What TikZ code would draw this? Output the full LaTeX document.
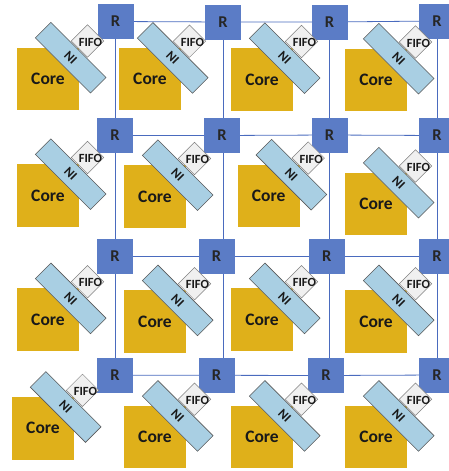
\documentclass[tikz,border=0pt]{standalone}
\usepackage{fontspec}
\setmainfont{Carlito}
\usetikzlibrary{calc,backgrounds}

\definecolor{coregold}{HTML}{DFB01A}
\definecolor{routerblue}{HTML}{5B7CC6}
\definecolor{linkblue}{HTML}{4A6BBE}
\definecolor{niblue}{HTML}{A9CFE3}
\definecolor{fifogray}{HTML}{F0F0F0}

\tikzset{
  router/.style={fill=routerblue, minimum width=36pt, minimum height=35pt,
    inner sep=0pt, font=\fontsize{16.5}{17}\selectfont\bfseries, text=black!85},
  link/.style={draw=linkblue, line width=0.8pt},
  corebox/.style={fill=coregold, minimum width=62pt, minimum height=62.5pt,
    inner sep=0pt, font=\fontsize{17.5}{18}\selectfont\bfseries, text=black!90},
  nibox/.style={fill=niblue, draw=black!65, line width=0.6pt, rotate=-45,
    minimum width=78pt, minimum height=22pt, inner sep=0pt,
    font=\fontsize{13}{13}\selectfont\bfseries, text=black!90},
  fifobox/.style={fill=fifogray, draw=black!50, line width=0.5pt, rotate=45,
    minimum size=22.9pt, inner sep=0pt},
  fifotext/.style={inner sep=0pt, font=\fontsize{12.5}{13}\selectfont\bfseries,
    text=black!90}
}

% One processing tile: core, network interface and its FIFO
\newcommand{\nocTile}[3]{%
  \node[corebox] (core#1) at (#2,#3) {Core};
  \node[nibox] (ni#1) at ($(core#1)+(22.7,-21.3)$) {NI};
  \node[fifobox] (fifo#1) at ($(core#1)+(39.5,-38)$) {};
  \node[fifotext] (fifolabel#1) at ($(fifo#1)+(3,1)$) {FIFO};
}

\begin{document}
\begin{tikzpicture}[x=1pt,y=-1pt]
  \useasboundingbox (0,0) rectangle (449,471);
  \clip (0,0) rectangle (449,471);

  % routers
  \node[router] (R11) at (115.5,21.5) {R};
  \node[router] (R12) at (223,22)     {R};
  \node[router] (R13) at (329.5,22)   {R};
  \node[router] (R14) at (437,21)     {R};
  \node[router] (R21) at (115,135.5)  {R};
  \node[router] (R22) at (222,135.5)  {R};
  \node[router] (R23) at (329.5,135)  {R};
  \node[router] (R24) at (437,135.5)  {R};
  \node[router] (R31) at (115,256.3)  {R};
  \node[router] (R32) at (216.5,256.3) {R};
  \node[router] (R33) at (326.7,256.3) {R};
  \node[router] (R34) at (437,256.3)  {R};
  \node[router] (R41) at (115,375.3)  {R};
  \node[router] (R42) at (216.5,375.3) {R};
  \node[router] (R43) at (326,375.5)  {R};
  \node[router] (R44) at (437,375)    {R};

  % mesh links
  \begin{scope}[on background layer]
    \foreach \r in {1,2,3,4}{
      \draw[link] (R\r1.center) -- (R\r2.center) -- (R\r3.center) -- (R\r4.center);
    }
    \draw[link] (R11.center) -- (R11.center |- R41.center);
    \draw[link] (R12.center) -- (R12.center |- R42.center);
    \draw[link] (R13.center) -- (R13.center |- R43.center);
    \draw[link] (R14.center) -- (R14.center |- R44.center);
  \end{scope}

  % tiles
  \nocTile{11}{48}{79}
  \nocTile{12}{150}{79.2}
  \nocTile{13}{262}{79.5}
  \nocTile{14}{376}{80}
  \nocTile{21}{48}{195.5}
  \nocTile{22}{155}{196.5}
  \nocTile{23}{268.7}{196}
  \nocTile{24}{376}{204}
  \nocTile{31}{48}{319.7}
  \nocTile{32}{155}{321.7}
  \nocTile{33}{262}{319.7}
  \nocTile{34}{376}{321.7}
  \nocTile{41}{43}{428.3}
  \nocTile{42}{155}{437.2}
  \nocTile{43}{262}{437.2}
  \nocTile{44}{376}{437.2}
\end{tikzpicture}
\end{document}
